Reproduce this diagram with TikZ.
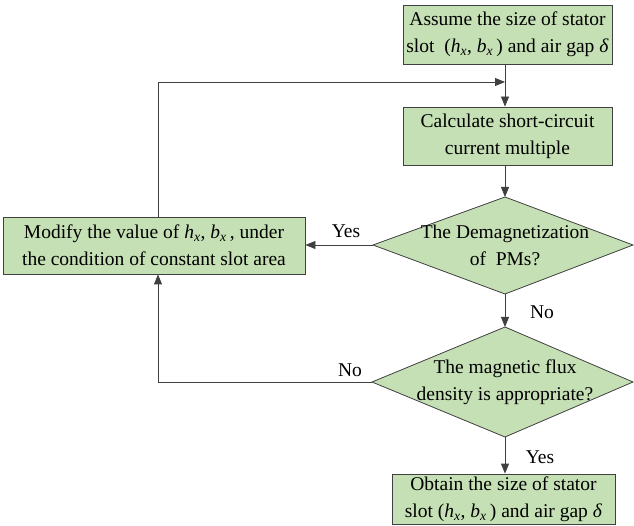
\documentclass[tikz,border=0pt]{standalone}
\usepackage{fontspec}
\setmainfont{Liberation Serif}
\usetikzlibrary{shapes.geometric,arrows.meta}
\definecolor{boxfill}{HTML}{C5E0B4}
\definecolor{linecol}{HTML}{404040}
\newcommand{\hx}{\textit{h}\textsubscript{\textit{x}}}
\newcommand{\bx}{\textit{b}\textsubscript{\textit{x}}}
\begin{document}
\begin{tikzpicture}[x=1pt,y=-1pt,
  every node/.style={font=\fontsize{19.5}{27}\selectfont},
  procbox/.style={draw=linecol,fill=boxfill,line width=0.8pt,align=center,inner sep=0pt},
  decbox/.style={draw=linecol,fill=boxfill,line width=0.8pt,diamond,inner sep=0pt,align=center},
  conn/.style={draw=linecol,line width=0.8pt},
  arr/.style={conn,-{Triangle[length=10pt,width=8pt]}},
  lbl/.style={inner sep=0pt}]
\useasboundingbox (0,0) rectangle (634,526);
\node[procbox,minimum width=209pt,minimum height=59pt] (a) at (507.5,34.5)
  {Assume the size of stator\\slot~ (\hx, \bx\,) and air gap \textit{δ}};
\node[procbox,minimum width=209pt,minimum height=58pt] (b) at (507.5,136)
  {Calculate short-circuit\\current multiple};
\draw[decbox] (373,245) -- (505,197) -- (633,245) -- (505,294) -- cycle;
\node[lbl,align=center] (d1) at (505,245.5) {The Demagnetization\\of~ PMs?};
\coordinate (d1l) at (373,245);
\coordinate (d1b) at (505,294);
\coordinate (d1t) at (505,197);
\node[procbox,minimum width=302pt,minimum height=57pt] (m) at (154,245.5)
  {Modify the value of \hx, \bx\,, under\\the condition of constant slot area};
\draw[decbox] (372,382) -- (505,327) -- (633,382) -- (505,437) -- cycle;
\node[lbl,align=center] (d2) at (505,382.5) {The magnetic flux\\density is appropriate?};
\coordinate (d2l) at (372,382);
\coordinate (d2b) at (505,437);
\coordinate (d2t) at (505,327);
\node[procbox,minimum width=223pt,minimum height=50pt] (e) at (503.5,499)
  {Obtain the size of stator\\slot (\hx, \bx\,) and air gap \textit{δ}};
\coordinate (j) at (505,82);
\coordinate (c1) at (158,82);
\coordinate (c2) at (158,382);
\draw[conn] (a.south -| j) -- (j);
\draw[arr] (j) -- (b.north -| j);
\draw[arr] (m.north -| c1) -- (c1) -- (j);
\draw[arr] (b.south -| d1t) -- (d1t);
\draw[arr] (d1l) -- (m.east |- d1l);
\draw[arr] (d1b) -- (d2t);
\draw[arr] (d2l) -- (c2) -- (m.south -| c2);
\draw[arr] (d2b) -- (e.north -| d2b);
\node[lbl] (y1) at (346,231) {Yes};
\node[lbl] (n1) at (542,312) {No};
\node[lbl] (n2) at (350,370) {No};
\node[lbl] (y2) at (540,457) {Yes};
\end{tikzpicture}
\end{document}
